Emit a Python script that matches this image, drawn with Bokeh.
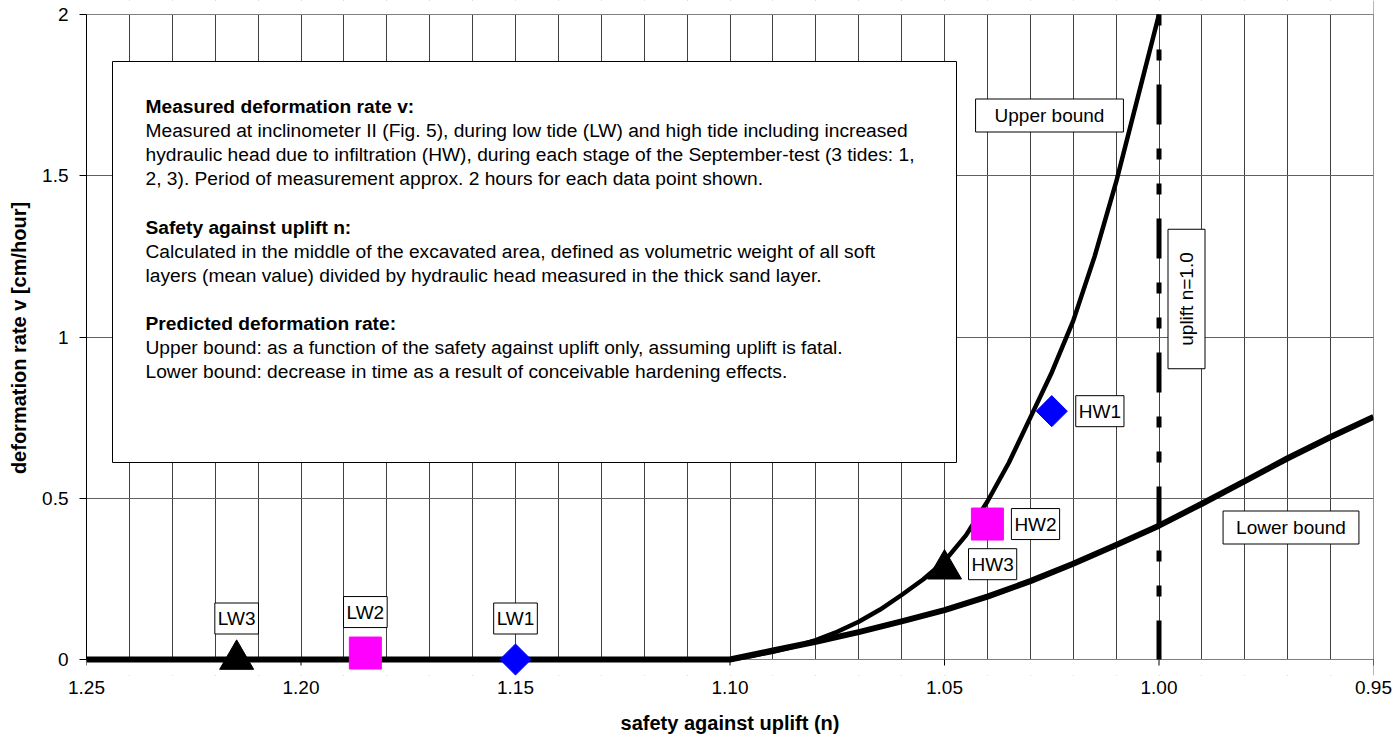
import numpy as np
from bokeh.plotting import figure
from bokeh.models import (Range1d, FixedTicker, SingleIntervalTicker, PrintfTickFormatter,
                          BoxAnnotation, Label)
from bokeh.embed import file_html
from bokeh.resources import INLINE

FONT = "Liberation Sans"

# ---------------- data ----------------
x_start, x_end = 1.25, 0.95
y_start, y_end = 0.0, 2.0
x_ticks = [1.25, 1.20, 1.15, 1.10, 1.05, 1.00, 0.95]
y_ticks = [0, 0.5, 1, 1.5, 2]
y_tick_labels = ["0", "0.5", "1", "1.5", "2"]

# predicted deformation rate - upper bound
upper_n = [1.25, 1.10, 1.095, 1.09, 1.085, 1.08, 1.075, 1.07, 1.065, 1.06, 1.055, 1.05,
           1.045, 1.04, 1.035, 1.03, 1.025, 1.02, 1.015, 1.01, 1.005, 1.00]
upper_v = [0.0, 0.0, 0.011, 0.024, 0.040, 0.060, 0.086, 0.117, 0.155, 0.200, 0.248, 0.305,
           0.385, 0.490, 0.610, 0.750, 0.890, 1.050, 1.250, 1.480, 1.740, 2.000]

# predicted deformation rate - lower bound
lower_n = [1.25, 1.10, 1.09, 1.08, 1.07, 1.06, 1.05, 1.04, 1.03, 1.02, 1.01, 1.00,
           0.99, 0.98, 0.97, 0.96, 0.95]
lower_v = [0.0, 0.0, 0.028, 0.055, 0.085, 0.118, 0.153, 0.195, 0.243, 0.297, 0.355, 0.415,
           0.483, 0.553, 0.624, 0.690, 0.752]

uplift_n = 1.00

# measured points (three tides)
tide1_n = [1.15, 1.025]
tide1_v = [0.0, 0.77]
tide1_lab = ["LW1", "HW1"]
tide2_n = [1.185, 1.04]
tide2_v = [0.02, 0.42]
tide2_lab = ["LW2", "HW2"]
tide3_n = [1.215, 1.05]
tide3_v = [0.0, 0.28]
tide3_lab = ["LW3", "HW3"]

x_title = "safety against uplift (n)"
y_title = "deformation rate v [cm/hour]"

info_lines = [
    ("Measured deformation rate v:", "bold"),
    ("Measured at inclinometer II (Fig. 5), during low tide (LW) and high tide including increased", "normal"),
    ("hydraulic head due to infiltration (HW), during each stage of the September-test (3 tides: 1,", "normal"),
    ("2, 3). Period of measurement approx. 2 hours for each data point shown.", "normal"),
    ("", "normal"),
    ("Safety against uplift n:", "bold"),
    ("Calculated in the middle of the excavated area, defined as volumetric weight of all soft", "normal"),
    ("layers (mean value) divided by hydraulic head measured in the thick sand layer.", "normal"),
    ("", "normal"),
    ("Predicted deformation rate:", "bold"),
    ("Upper bound: as a function of the safety against uplift only, assuming uplift is fatal.", "normal"),
    ("Lower bound: decrease in time as a result of conceivable hardening effects.", "normal"),
]

# ---------------- layout (page pixels) ----------------
FL, FR, FT, FB = 86, 1373, 14, 659     # plot area (v from 0 to 2)
TOP_PAD, BOT_PAD = 14, 16              # frame room above/below so markers are not clipped


def nx(px):
    return x_start + (px - FL) / (FR - FL) * (x_end - x_start)


def vy(py):
    return y_end - (py - FT) / (FB - FT) * (y_end - y_start)


y_lo = vy(FB + BOT_PAD)
y_hi = vy(FT - TOP_PAD)

p = figure(frame_width=FR - FL, frame_height=(FB + BOT_PAD) - (FT - TOP_PAD),
           x_range=Range1d(x_start, x_end), y_range=Range1d(y_lo, y_hi),
           output_backend="svg", toolbar_location=None,
           min_border_left=FL, min_border_right=22, min_border_top=FT - TOP_PAD,
           min_border_bottom=64,
           background_fill_color="white", border_fill_color="white")
p.outline_line_color = None

# x axis (sits at the frame bottom; ticks drawn at v=0 below)
xa = p.xaxis[0]
xa.ticker = FixedTicker(ticks=x_ticks)
xa.formatter = PrintfTickFormatter(format="%.2f")
xa.major_tick_in = 0
xa.major_tick_out = 0
xa.minor_tick_in = 0
xa.minor_tick_out = 0
xa.axis_line_color = None
xa.major_label_text_font = FONT
xa.major_label_text_font_size = "19px"
xa.major_label_text_color = "black"
xa.major_label_standoff = 5
xa.axis_label = x_title
xa.axis_label_text_font = FONT
xa.axis_label_text_font_style = "bold"
xa.axis_label_text_font_size = "20px"
xa.axis_label_text_color = "black"
xa.axis_label_standoff = 15

ya = p.yaxis[0]
ya.bounds = (y_start, y_end)
ya.ticker = FixedTicker(ticks=y_ticks)
ya.major_label_overrides = {t: l for t, l in zip(y_ticks, y_tick_labels)}
ya.major_tick_in = 0
ya.major_tick_out = 7
ya.minor_tick_in = 0
ya.minor_tick_out = 0
ya.major_tick_line_color = "black"
ya.axis_line_color = "black"
ya.major_label_text_font = FONT
ya.major_label_text_font_size = "19px"
ya.major_label_text_color = "black"
ya.major_label_standoff = 11
ya.axis_label = y_title
ya.axis_label_text_font = FONT
ya.axis_label_text_font_style = "bold"
ya.axis_label_text_font_size = "20px"
ya.axis_label_text_color = "black"
ya.axis_label_standoff = 9

# grid
p.xgrid.ticker = SingleIntervalTicker(interval=0.01, num_minor_ticks=0)
p.xgrid.grid_line_color = "#404040"
p.xgrid.grid_line_width = 1
p.ygrid.ticker = FixedTicker(ticks=y_ticks)
p.ygrid.grid_line_color = "#606060"
p.ygrid.grid_line_width = 1

# white covers so the grid stays between v=0 and v=2
p.quad(left=[x_start, x_start], right=[x_end, x_end], bottom=[y_lo, y_end],
       top=[y_start, y_hi], fill_color="white", line_color=None)
# plot-area border (top, bottom and right edges)
p.segment(x0=[x_start, x_start, x_end], y0=[y_start, y_end, y_start],
          x1=[x_end, x_end, x_end], y1=[y_start, y_end, y_end],
          line_color="#808080", line_width=1)
# x tick marks below v=0
p.segment(x0=x_ticks, y0=[y_start] * len(x_ticks), x1=x_ticks,
          y1=[vy(FB + 6)] * len(x_ticks), line_color="black", line_width=1)

# curves
p.line(upper_n, upper_v, line_color="black", line_width=4.5, line_join="round")
p.line(lower_n, lower_v, line_color="black", line_width=6, line_join="round")

# uplift line n = 1.0 (dash pattern starts at the top)
p.segment(x0=[uplift_n], y0=[y_end], x1=[uplift_n], y1=[y_start], line_color="black",
          line_width=5, line_dash="11 24 11 24 40 24")

# measured points
p.scatter(tide1_n, tide1_v, marker="square", angle=np.pi / 4, size=22,
          fill_color="#0000FF", line_color="#0000FF")
p.scatter(tide2_n, tide2_v, marker="square", size=32,
          fill_color="#FF00FF", line_color="#FF00FF")
p.scatter(tide3_n, tide3_v, marker="triangle", size=34,
          fill_color="black", line_color="black")

# info box
p.add_layout(BoxAnnotation(left=nx(112), right=nx(956), top=vy(61), bottom=vy(462),
                           fill_color="white", fill_alpha=1.0,
                           line_color="black", line_width=1, line_alpha=1.0))
for i, (txt, style) in enumerate(info_lines):
    if not txt:
        continue
    p.add_layout(Label(x=nx(145), y=vy(106 + i * 24.1), text=txt,
                       text_font=FONT, text_font_size="19.2px", text_font_style=style,
                       text_color="black", text_align="left", text_baseline="middle"))


def boxed(x, y, text, pad, **kw):
    return Label(x=x, y=y, text=text, text_font=FONT, text_font_size="19px",
                 text_color="black", background_fill_color="white",
                 border_line_color="black", border_line_width=1,
                 padding=dict(left=pad[0], right=pad[0], top=pad[1], bottom=pad[1]), **kw)


# point labels
for n_arr, v_arr, lab_arr, hw_dy in ((tide1_n, tide1_v, tide1_lab, 0),
                                     (tide2_n, tide2_v, tide2_lab, 0),
                                     (tide3_n, tide3_v, tide3_lab, 5)):
    p.add_layout(boxed(n_arr[0], v_arr[0], lab_arr[0], (3, 5), text_align="center",
                       text_baseline="middle", y_offset=41))
    p.add_layout(boxed(n_arr[1], v_arr[1], lab_arr[1], (3, 5), text_align="left",
                       text_baseline="middle", x_offset=24, y_offset=hw_dy))

# curve labels
p.add_layout(boxed(nx(1049), vy(115), "Upper bound", (19, 6),
                   text_align="center", text_baseline="middle"))
p.add_layout(boxed(nx(1290.5), vy(527), "Lower bound", (13, 6),
                   text_align="center", text_baseline="middle"))
p.add_layout(boxed(nx(1186), vy(298.5), "uplift n=1.0", (23, 8),
                   text_align="center", text_baseline="middle", angle=np.pi / 2))

open("out.html", "w").write(file_html(p, INLINE))
